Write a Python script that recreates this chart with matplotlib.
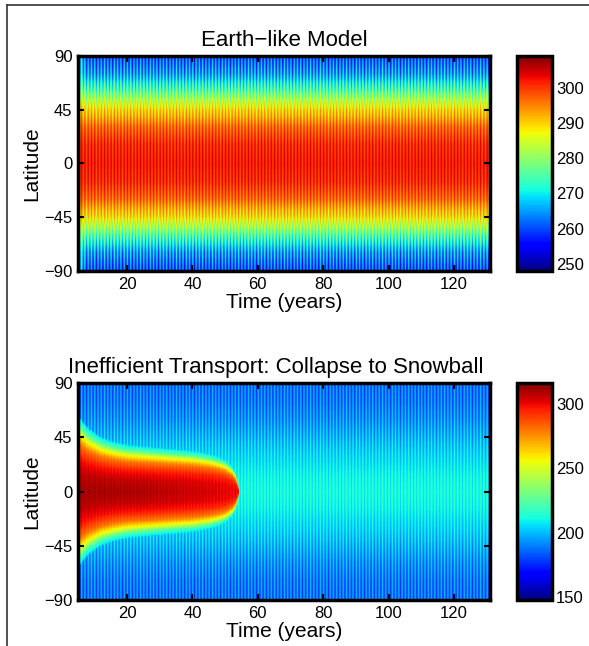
import numpy as np
import matplotlib
matplotlib.use("Agg")
import matplotlib.pyplot as plt
from matplotlib.lines import Line2D

plt.rcParams['font.family'] = ['Liberation Sans', 'DejaVu Sans']

# ---------------- data ----------------
years = np.arange(5.0, 131.0, 0.25)         # quarter-year samples (season stripes)
season_cycle = [1.0, 0.0, -1.0, 0.0]          # summer, equinox, winter, equinox
latitudes = np.arange(-90, 91, 1.0)

# |latitude| nodes for profiles
lat_nodes = [0, 15, 30, 45, 60, 75, 90]

# Earth-like model: mean temperature and seasonal half-range by latitude
earth_mean = [302, 301, 297, 289, 276, 265, 260]
earth_amp = [3.0, 3.5, 4.5, 5.5, 6.5, 7.0, 7.0]
# warm polar start (years, K at the pole)
earth_start_t = [5, 6, 7, 8]
earth_start_dT = [14, 6, 2, 0]

# Snowball state: temperature and seasonal half-range by latitude
snow_mean = [212, 210, 205, 199, 193, 189, 188]
snow_amp = [6.0, 7.0, 9.0, 11.0, 12.0, 12.5, 12.5]

# Collapsing warm band: half-width (deg latitude of 250 K edge) versus time
band_t = [5, 8, 12, 16, 20, 30, 40, 45, 48, 50, 52, 53, 53.8, 54.2]
band_w = [50, 42, 36, 33, 31, 29, 27, 25, 23, 21, 17, 13, 7, 0]
# warm-band profile along latitude / half-width
band_r = [0, 0.3, 0.55, 0.8, 1.0, 1.1, 1.25]
band_T = [311, 307, 298, 280, 250, 226, 205]
core_t = [5, 25, 45, 54.2]
core_dT = [0, -2, -8, -12]

top_clim = (248, 309)
bot_clim = (148, 316)
top_ticks = [250, 260, 270, 280, 290, 300]
bot_ticks = [150, 200, 250, 300]
x_ticks = [20, 40, 60, 80, 100, 120]
y_ticks = [-90, -45, 0, 45, 90]

# ---------------- fields ----------------
alat = np.abs(latitudes)[:, None]
sgn = np.array([season_cycle[i % 4] for i in range(len(years))])[None, :]

em = np.interp(alat, lat_nodes, earth_mean)
ea = np.interp(alat, lat_nodes, earth_amp)
start = np.interp(years, earth_start_t, earth_start_dT)[None, :] * (alat / 90.0) ** 2
earth = em + ea * sgn + start

sm = np.interp(alat, lat_nodes, snow_mean)
sa = np.interp(alat, lat_nodes, snow_amp)
snow = sm + sa * sgn
w = np.interp(years, band_t, band_w)[None, :]
active = (years <= band_t[-1])[None, :]
r = alat / np.maximum(w, 1e-6)
warm = np.interp(r, band_r, band_T, right=band_T[-1] - 200)
warm = warm + np.interp(years, core_t, core_dT)[None, :] * np.clip(1 - r, 0, 1)
warm = warm + 2.5 * sgn
snowball = np.where(active & (w > 0), np.maximum(warm, snow), snow)

# ---------------- figure ----------------
fig = plt.figure(figsize=(5.89, 6.46), dpi=100)
cmap = plt.get_cmap('jet')

def panel(ax_rect, cb_rect, field, clim, cticks, title, title_x=0.5):
    ax = fig.add_axes(ax_rect)
    im = ax.imshow(field, origin='lower', aspect='auto', cmap=cmap,
                   interpolation='antialiased',
                   extent=[years[0], years[-1] + 0.25, -90, 90],
                   vmin=clim[0], vmax=clim[1])
    ax.set_xlim(years[0], years[-1] + 0.25)
    ax.set_ylim(-90, 90)
    ax.set_xticks(x_ticks)
    ax.set_yticks(y_ticks)
    ax.set_yticklabels([str(v).replace('-', '\u2212') for v in y_ticks])
    ax.tick_params(direction='in', length=4, width=1.5, labelsize=12,
                   top=True, right=True, pad=4)
    for s in ax.spines.values():
        s.set_linewidth(2.5)
    ax.set_xlabel('Time (years)', fontsize=15, labelpad=1)
    ax.set_ylabel('Latitude', fontsize=15, labelpad=2)
    ax.set_title(title, fontsize=16, pad=7, x=title_x)
    cax = fig.add_axes(cb_rect)
    cb = fig.colorbar(im, cax=cax)
    cb.set_ticks(cticks)
    cb.outline.set_linewidth(2.5)
    cax.tick_params(direction='in', length=0, labelsize=12, pad=3)
    return ax

W, H = 589, 646
def rect(x0, y0, x1, y1):
    return [x0 / W, 1 - y1 / H, (x1 - x0) / W, (y1 - y0) / H]

panel(rect(78, 56, 490, 271), rect(517, 56, 552, 271), earth, top_clim,
      top_ticks, 'Earth\u2212like Model')
panel(rect(78, 383, 490, 600), rect(517, 383, 552, 600), snowball, bot_clim,
      bot_ticks, 'Inefficient Transport: Collapse to Snowball', title_x=0.48)

# outer frame (left and top edges only)
fig.add_artist(Line2D([7 / W, 7 / W], [0, 1 - 5 / H], color='#333333', lw=1.2,
                      transform=fig.transFigure))
fig.add_artist(Line2D([7 / W, 1], [1 - 5 / H, 1 - 5 / H], color='#333333', lw=1.2,
                      transform=fig.transFigure))

fig.savefig('out.png', dpi=100)
